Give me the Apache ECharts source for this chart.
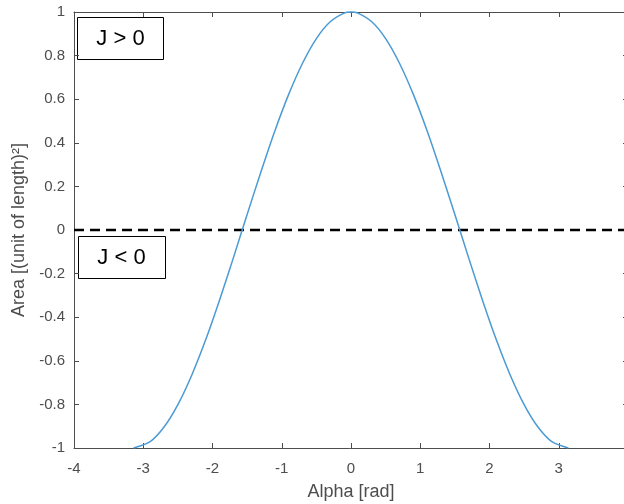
<!DOCTYPE html>
<html>
<head>
<meta charset="utf-8">
<script src="https://cdn.jsdelivr.net/npm/echarts@6/dist/echarts.min.js"></script>
<style>
  html, body { margin: 0; padding: 0; background: #fff; }
  #chart { width: 624px; height: 504px; }
</style>
</head>
<body>
<div id="chart"></div>
<script>
// values (alpha in rad, area)
const alpha = [-3.14, -2.9, -2.7, -2.5, -2.3, -2.1, -1.9, -1.7, -1.5, -1.3, -1.1, -0.9, -0.7, -0.5, -0.3, -0.1, 0,
  0.1, 0.3, 0.5, 0.7, 0.9, 1.1, 1.3, 1.5, 1.7, 1.9, 2.1, 2.3, 2.5, 2.7, 2.9, 3.14];
const area = [-1.0, -0.971, -0.904, -0.801, -0.666, -0.505, -0.323, -0.129, 0.071, 0.267, 0.454, 0.622, 0.765, 0.878, 0.955, 0.995, 1.0,
  0.995, 0.955, 0.878, 0.765, 0.622, 0.454, 0.267, 0.071, -0.129, -0.323, -0.505, -0.666, -0.801, -0.904, -0.971, -1.0];
const zeroLine = [[-4, 0], [4, 0]];
const boxLabels = ["J > 0", "J < 0"];

const textColor = "#4d4d4d";
const axisColor = "#4d4d4d";
const font = "Liberation Sans";

const chart = echarts.init(document.getElementById("chart"));

const option = {
  animation: false,
  grid: { left: 74, top: 12, width: 554, height: 436, outerBoundsMode: "none", containLabel: false },
  xAxis: [
    {
      type: "value",
      min: -4,
      max: 4,
      interval: 1,
      name: "Alpha [rad]",
      nameLocation: "middle",
      nameGap: 35,
      nameTextStyle: { color: textColor, fontSize: 18, fontFamily: font },
      axisLine: { onZero: false, lineStyle: { color: axisColor, width: 1 } },
      axisTick: { inside: true, length: 5, lineStyle: { color: axisColor } },
      axisLabel: { color: textColor, fontSize: 15, fontFamily: font, margin: 13 },
      splitLine: { show: false },
    },
    {
      type: "value",
      position: "top",
      min: -4,
      max: 4,
      interval: 1,
      axisLine: { onZero: false, lineStyle: { color: axisColor, width: 1 } },
      axisTick: { inside: true, length: 5, lineStyle: { color: axisColor } },
      axisLabel: { show: false },
      splitLine: { show: false },
    },
  ],
  yAxis: [
    {
      type: "value",
      min: -1,
      max: 1,
      interval: 0.2,
      name: "Area [(unit of length)²]",
      nameLocation: "middle",
      nameGap: 42,
      nameTextStyle: { color: textColor, fontSize: 18, fontFamily: font },
      axisLine: { onZero: false, lineStyle: { color: axisColor, width: 1 } },
      axisTick: { inside: true, length: 5, lineStyle: { color: axisColor } },
      axisLabel: {
        color: textColor,
        fontSize: 15,
        fontFamily: font,
        margin: 9,
        formatter: (v) => String(Math.round(v * 10) / 10),
      },
      splitLine: { show: false },
    },
    {
      type: "value",
      position: "right",
      min: -1,
      max: 1,
      interval: 0.2,
      axisLine: { onZero: false, lineStyle: { color: axisColor, width: 1 } },
      axisTick: { inside: true, length: 5, lineStyle: { color: axisColor } },
      axisLabel: { show: false },
      splitLine: { show: false },
    },
  ],
  series: [
    {
      name: "zero",
      type: "line",
      data: zeroLine,
      symbol: "none",
      silent: true,
      lineStyle: { color: "#000", width: 2.5, type: [10, 6] },
      z: 3,
    },
    {
      name: "area",
      type: "line",
      data: alpha.map((a, i) => [a, area[i]]),
      symbol: "none",
      smooth: 0.3,
      clip: false,
      lineStyle: { color: "#4a9ad4", width: 1.5 },
      z: 4,
    },
  ],
  graphic: [
    {
      type: "group",
      left: 77,
      top: 17,
      children: [
        {
          type: "rect",
          shape: { x: 0, y: 0, width: 86, height: 42 },
          style: { fill: "#fff", stroke: "#000", lineWidth: 1 },
        },
        {
          type: "text",
          x: 43,
          y: 21,
          style: {
            text: boxLabels[0],
            fill: "#000",
            font: "22px Liberation Sans",
            align: "center",
            verticalAlign: "middle",
          },
        },
      ],
      z: 10,
    },
    {
      type: "group",
      left: 78,
      top: 236,
      children: [
        {
          type: "rect",
          shape: { x: 0, y: 0, width: 87, height: 42 },
          style: { fill: "#fff", stroke: "#000", lineWidth: 1 },
        },
        {
          type: "text",
          x: 43,
          y: 21,
          style: {
            text: boxLabels[1],
            fill: "#000",
            font: "22px Liberation Sans",
            align: "center",
            verticalAlign: "middle",
          },
        },
      ],
      z: 10,
    },
  ],
};

chart.setOption(option);
</script>
</body>
</html>
